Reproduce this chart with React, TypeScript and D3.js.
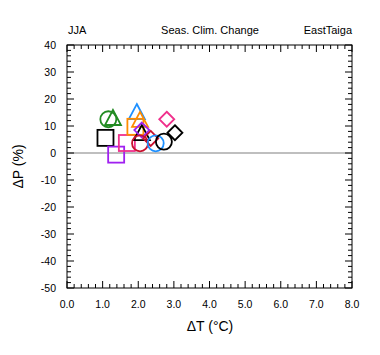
import React from "react";
import * as d3 from "d3";

const pointX = [1.16, 1.29, 1.08, 1.38, 1.68, 1.96, 1.92, 2.05, 2.10, 2.10, 2.05, 2.35, 2.49, 2.72, 3.03, 2.80];
const pointY = [12.5, 12.6, 5.6, -0.6, 3.7, 14.8, 9.7, 11.9, 7.0, 8.5, 3.6, 5.4, 3.6, 4.2, 7.5, 12.5];
const pointShape = ["circle", "triangle", "square", "square", "square", "triangle", "square", "triangle", "triangle", "diamond", "circle", "diamond", "circle", "circle", "diamond", "diamond"];
const pointColor = ["#228B22", "#228B22", "#000000", "#A020F0", "#F0308C", "#1E90FF", "#FF8C00", "#FF8C00", "#000000", "#A020F0", "#C8102E", "#C8102E", "#1E90FF", "#000000", "#000000", "#F0308C"];

const xTicks = [0, 1, 2, 3, 4, 5, 6, 7, 8];
const yTicks = [40, 30, 20, 10, 0, -10, -20, -30, -40, -50];

const W = 380, H = 355;
const L = 67, R = 352, T = 45, B = 288;
const font = "Liberation Sans, Arial, Helvetica, sans-serif";

function marker(shape: string, cx: number, cy: number, color: string, key: number) {
  const sw = 1.8;
  const common = { fill: "none", stroke: color, strokeWidth: sw, key };
  if (shape === "circle") return <circle {...common} cx={cx} cy={cy} r={8} />;
  if (shape === "square") return <rect {...common} x={cx - 8} y={cy - 8} width={16} height={16} />;
  if (shape === "diamond") {
    const r = 7.5;
    return <path {...common} d={`M${cx},${cy - r}L${cx + r},${cy}L${cx},${cy + r}L${cx - r},${cy}Z`} />;
  }
  const h = 15, w = 16;
  return <path {...common} d={`M${cx},${cy - h * 0.6}L${cx + w / 2},${cy + h * 0.4}L${cx - w / 2},${cy + h * 0.4}Z`} />;
}

export default function App() {
  const x = d3.scaleLinear().domain([0, 8]).range([L, R]);
  const y = d3.scaleLinear().domain([-50, 40]).range([B, T]);
  const xMinor = d3.range(0, 8.001, 0.2);
  const yMinor = d3.range(-50, 40.001, 2);
  const ticks: JSX.Element[] = [];
  xMinor.forEach((v, i) => {
    const major = Math.abs(v - Math.round(v)) < 1e-6;
    const len = major ? 7 : 4;
    ticks.push(<line key={"xb" + i} x1={x(v)} x2={x(v)} y1={B} y2={B - len} stroke="#000" />);
    ticks.push(<line key={"xt" + i} x1={x(v)} x2={x(v)} y1={T} y2={T + len} stroke="#000" />);
  });
  yMinor.forEach((v, i) => {
    const major = Math.abs(v % 10) < 1e-6;
    const len = major ? 7 : 4;
    ticks.push(<line key={"yl" + i} y1={y(v)} y2={y(v)} x1={L} x2={L + len} stroke="#000" />);
    ticks.push(<line key={"yr" + i} y1={y(v)} y2={y(v)} x1={R} x2={R - len} stroke="#000" />);
  });
  return (
    <svg width={W} height={H} style={{ display: "block", position: "absolute", left: 0, top: 0 }} fontFamily={font}>
      <rect width={W} height={H} fill="#fff" />
      <line x1={L} x2={R} y1={y(0)} y2={y(0)} stroke="#aaaaaa" strokeWidth={1.5} />
      {pointX.map((v, i) => marker(pointShape[i], x(v), y(pointY[i]), pointColor[i], i))}
      {ticks}
      <rect x={L} y={T} width={R - L} height={B - T} fill="none" stroke="#000" strokeWidth={1} />
      {xTicks.map((v) => (
        <text key={"xl" + v} x={x(v)} y={308} fontSize={10.5} textAnchor="middle">{v.toFixed(1)}</text>
      ))}
      {yTicks.map((v) => (
        <text key={"yl" + v} x={56} y={y(v) + 4} fontSize={10.5} textAnchor="end">{v}</text>
      ))}
      <text x={68} y={34} fontSize={11}>JJA</text>
      <text x={210} y={34} fontSize={11} textAnchor="middle">Seas. Clim. Change</text>
      <text x={352} y={34} fontSize={11} textAnchor="end">EastTaiga</text>
      <text x={210} y={331} fontSize={14} textAnchor="middle">ΔT (°C)</text>
      <text transform={`translate(23,${(T + B) / 2}) rotate(-90)`} fontSize={14} textAnchor="middle">ΔP (%)</text>
    </svg>
  );
}
